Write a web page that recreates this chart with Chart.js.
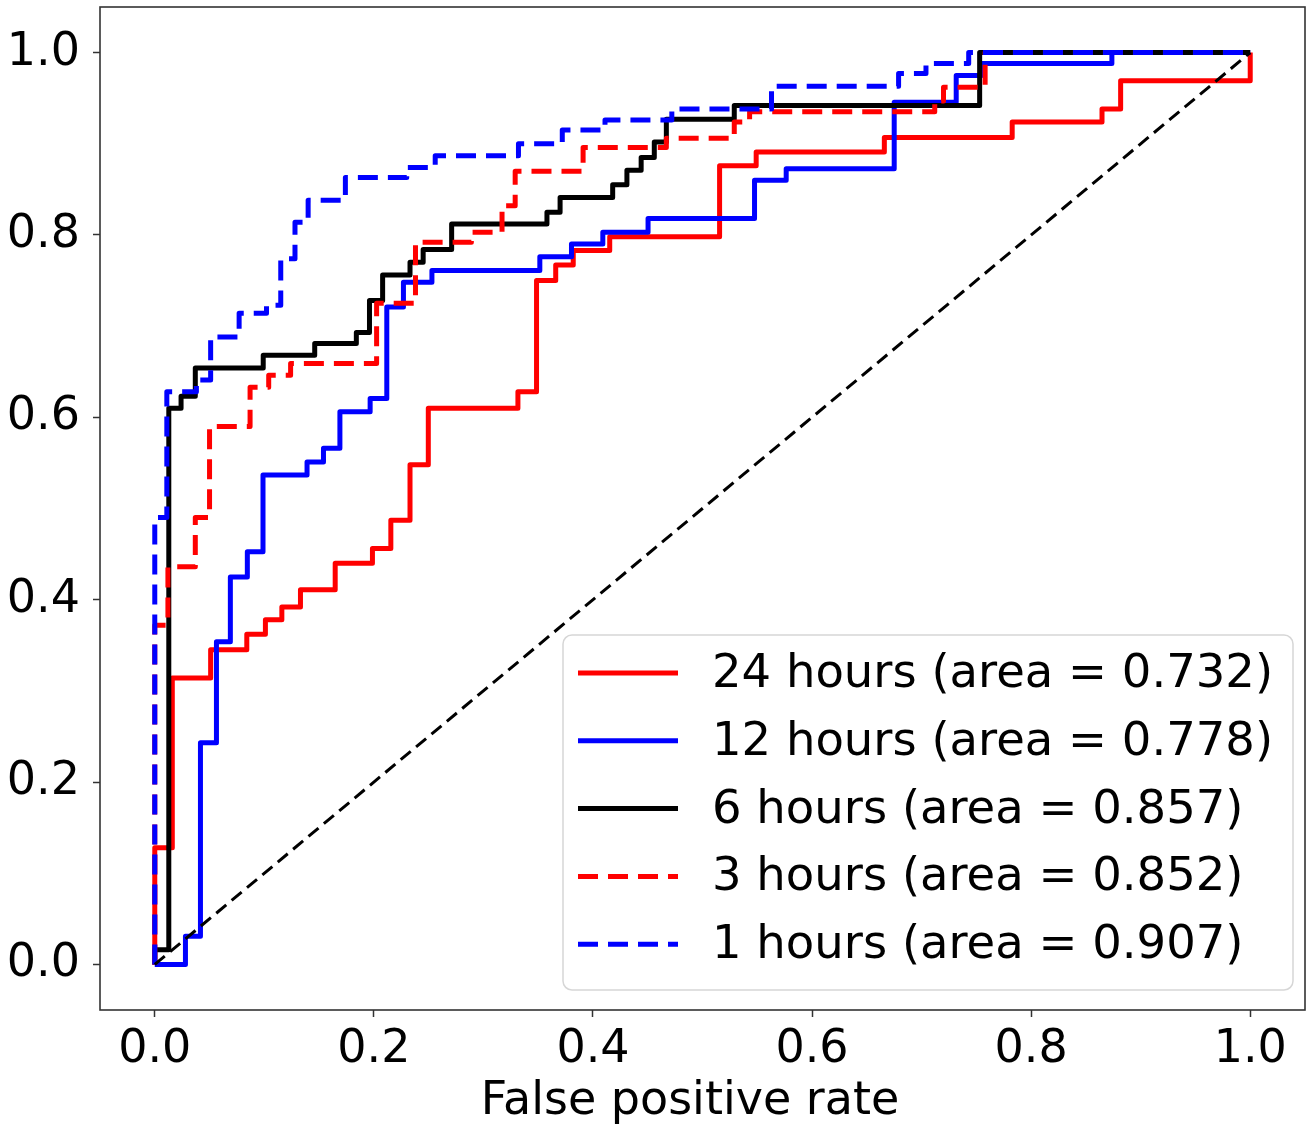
<!DOCTYPE html>
<html>
<head>
<meta charset="utf-8">
<script src="https://cdn.jsdelivr.net/npm/chart.js@4.4.1/dist/chart.umd.min.js"></script>
<style>
html,body{margin:0;padding:0;background:#fff;}
#wrap{width:1308px;height:1127px;position:relative;}
</style>
</head>
<body>
<div id="wrap"><canvas id="c" width="1308" height="1127"></canvas></div>
<script>
// ---------- data ----------
const seriesLabels = [
  '24 hours (area = 0.732)',
  '12 hours (area = 0.778)',
  '6 hours (area = 0.857)',
  '3 hours (area = 0.852)',
  '1 hours (area = 0.907)'
];

const fpr24 = [0,0,0.016,0.016,0.051,0.051,0.084,0.084,0.101,0.101,0.116,0.116,0.133,0.133,0.1647,0.1647,0.1987,0.1987,0.2155,0.2155,0.233,0.233,0.2497,0.2497,0.3315,0.3315,0.3485,0.3485,0.366,0.366,0.382,0.382,0.4153,0.4153,0.5156,0.5156,0.549,0.549,0.666,0.666,0.7827,0.7827,0.8647,0.8647,0.8817,0.8817,1.0,1.0];
const tpr24 = [0,0.128,0.128,0.314,0.314,0.345,0.345,0.362,0.362,0.378,0.378,0.392,0.392,0.411,0.411,0.44,0.44,0.456,0.456,0.487,0.487,0.548,0.548,0.61,0.61,0.628,0.628,0.75,0.75,0.767,0.767,0.783,0.783,0.798,0.798,0.876,0.876,0.891,0.891,0.907,0.907,0.924,0.924,0.938,0.938,0.969,0.969,1.0];

const fpr12 = [0,0.028,0.028,0.0417,0.0417,0.0563,0.0563,0.069,0.069,0.0845,0.0845,0.0988,0.0988,0.139,0.139,0.154,0.154,0.169,0.169,0.1966,0.1966,0.2118,0.2118,0.227,0.227,0.253,0.253,0.3515,0.3515,0.3804,0.3804,0.409,0.409,0.4503,0.4503,0.5475,0.5475,0.5764,0.5764,0.675,0.675,0.7316,0.7316,0.755,0.755,0.8737,0.8737,1.0];
const tpr12 = [0,0,0.031,0.031,0.243,0.243,0.354,0.354,0.425,0.425,0.4527,0.4527,0.5367,0.5367,0.551,0.551,0.566,0.566,0.606,0.606,0.6206,0.6206,0.721,0.721,0.748,0.748,0.761,0.761,0.776,0.776,0.790,0.790,0.803,0.803,0.818,0.818,0.86,0.86,0.8726,0.8726,0.9456,0.9456,0.975,0.975,0.988,0.988,1.0,1.0];

const fpr6 = [0,0,0.0128,0.0128,0.024,0.024,0.037,0.037,0.099,0.099,0.146,0.146,0.184,0.184,0.196,0.196,0.208,0.208,0.233,0.233,0.245,0.245,0.271,0.271,0.358,0.358,0.370,0.370,0.418,0.418,0.431,0.431,0.444,0.444,0.456,0.456,0.467,0.467,0.529,0.529,0.753,0.753,1.0];
const tpr6 = [0,0.016,0.016,0.610,0.610,0.623,0.623,0.654,0.654,0.668,0.668,0.681,0.681,0.693,0.693,0.728,0.728,0.756,0.756,0.770,0.770,0.784,0.784,0.812,0.812,0.825,0.825,0.841,0.841,0.855,0.855,0.871,0.871,0.885,0.885,0.902,0.902,0.927,0.927,0.942,0.942,1.0,1.0];

const fpr3 = [0,0,0.012,0.012,0.037,0.037,0.050,0.050,0.087,0.087,0.104,0.104,0.124,0.124,0.2025,0.2025,0.238,0.238,0.289,0.289,0.317,0.317,0.329,0.329,0.391,0.391,0.467,0.467,0.529,0.529,0.543,0.543,0.712,0.712,0.720,0.720,0.758,0.758,1.0];
const tpr3 = [0,0.372,0.372,0.436,0.436,0.49,0.49,0.59,0.59,0.633,0.633,0.646,0.646,0.659,0.659,0.725,0.725,0.792,0.792,0.803,0.803,0.832,0.832,0.870,0.870,0.896,0.896,0.906,0.906,0.924,0.924,0.935,0.935,0.947,0.947,0.962,0.962,1.0,1.0];

const fpr1 = [0,0,0.011,0.011,0.038,0.038,0.051,0.051,0.077,0.077,0.102,0.102,0.115,0.115,0.128,0.128,0.140,0.140,0.174,0.174,0.230,0.230,0.256,0.256,0.332,0.332,0.372,0.372,0.411,0.411,0.472,0.472,0.563,0.563,0.679,0.679,0.704,0.704,0.743,0.743,1.0];
const tpr1 = [0,0.49,0.49,0.628,0.628,0.641,0.641,0.688,0.688,0.714,0.714,0.723,0.723,0.774,0.774,0.814,0.814,0.838,0.838,0.863,0.863,0.874,0.874,0.887,0.887,0.900,0.900,0.915,0.915,0.926,0.926,0.938,0.938,0.963,0.963,0.977,0.977,0.988,0.988,1.0,1.0];

const diagX = [0, 1];
const diagY = [0, 1];

const xTicks = [0, 0.2, 0.4, 0.6, 0.8, 1.0];
const yTicks = [0, 0.2, 0.4, 0.6, 0.8, 1.0];
const xTitle = 'False positive rate';

// ---------- chart ----------
const FONT = "'DejaVu Sans', 'Liberation Sans', sans-serif";
const pts = (xs, ys) => xs.map((x, i) => ({x: x, y: ys[i]}));

function mk(label, xs, ys, color, dash, order) {
  return {
    label: label, data: pts(xs, ys), borderColor: color, backgroundColor: color,
    borderWidth: 5, borderDash: dash, pointRadius: 0, pointHoverRadius: 0,
    tension: 0, fill: false, order: order, borderJoinStyle: 'round', borderCapStyle: 'butt'
  };
}

const datasets = [
  mk(seriesLabels[0], fpr24, tpr24, '#ff0000', [], 6),
  mk(seriesLabels[1], fpr12, tpr12, '#0000ff', [], 5),
  mk(seriesLabels[2], fpr6, tpr6, '#000000', [], 4),
  mk(seriesLabels[3], fpr3, tpr3, '#ff0000', [20, 10], 3),
  mk(seriesLabels[4], fpr1, tpr1, '#0000ff', [20, 10], 2),
  {label: '', data: pts(diagX, diagY), borderColor: '#000', borderWidth: 3, borderDash: [13, 7],
   pointRadius: 0, tension: 0, fill: false, order: 1, isDiag: true, borderCapStyle: 'butt'}
];

const framePlugin = {
  id: 'frame',
  afterDraw(chart) {
    const a = chart.chartArea, ctx = chart.ctx;
    ctx.save();
    ctx.strokeStyle = '#333';
    ctx.lineWidth = 1.6;
    ctx.strokeRect(a.left, a.top, a.right - a.left, a.bottom - a.top);
    // x-axis title
    ctx.fillStyle = '#000';
    ctx.font = '46px ' + FONT;
    ctx.textAlign = 'center';
    ctx.textBaseline = 'middle';
    ctx.fillText(xTitle, 690, 1102);
    ctx.restore();
  }
};

const legendPlugin = {
  id: 'boxLegend',
  afterDraw(chart) {
    const ctx = chart.ctx;
    const bx = 563, by = 635, bw = 730, bh = 355, r = 9;
    ctx.save();
    ctx.beginPath();
    ctx.moveTo(bx + r, by);
    ctx.arcTo(bx + bw, by, bx + bw, by + bh, r);
    ctx.arcTo(bx + bw, by + bh, bx, by + bh, r);
    ctx.arcTo(bx, by + bh, bx, by, r);
    ctx.arcTo(bx, by, bx + bw, by, r);
    ctx.closePath();
    ctx.fillStyle = 'rgba(255,255,255,0.8)';
    ctx.fill();
    ctx.strokeStyle = '#d6d6d6';
    ctx.lineWidth = 1.5;
    ctx.stroke();
    const rowY0 = 673, rowStep = 67.8;
    chart.data.datasets.forEach((ds, i) => {
      if (ds.isDiag) return;
      const y = rowY0 + i * rowStep;
      ctx.beginPath();
      ctx.setLineDash(ds.borderDash || []);
      ctx.lineWidth = ds.borderWidth;
      ctx.strokeStyle = ds.borderColor;
      ctx.lineCap = 'butt';
      ctx.moveTo(578, y);
      ctx.lineTo(678, y);
      ctx.stroke();
      ctx.setLineDash([]);
      ctx.fillStyle = '#000';
      ctx.font = '46.5px ' + FONT;
      ctx.textBaseline = 'middle';
      ctx.textAlign = 'left';
      ctx.fillText(ds.label, 712, y + 2);
    });
    ctx.restore();
  }
};

new Chart(document.getElementById('c'), {
  type: 'line',
  data: {datasets: datasets},
  options: {
    responsive: false,
    animation: false,
    devicePixelRatio: 1,
    layout: {padding: {top: 7, right: 3, left: 0, bottom: 0}},
    plugins: {legend: {display: false}, tooltip: {enabled: false}},
    scales: {
      x: {
        type: 'linear', min: -0.05, max: 1.05,
        afterBuildTicks: s => { s.ticks = xTicks.map(v => ({value: v})); },
        afterFit: s => { s.height = 117; s.paddingLeft = 0; s.paddingRight = 0; },
        ticks: {callback: v => v.toFixed(1), color: '#000', font: {family: FONT, size: 46}, padding: 5, maxRotation: 0, autoSkip: false},
        grid: {drawOnChartArea: false, drawTicks: true, tickLength: 7, tickColor: '#333', tickWidth: 1.5},
        border: {display: false},
        title: {display: false}
      },
      y: {
        type: 'linear', min: -0.05, max: 1.05,
        afterBuildTicks: s => { s.ticks = yTicks.map(v => ({value: v})); },
        afterFit: s => { s.width = 100; s.paddingTop = 0; s.paddingBottom = 0; },
        ticks: {callback: v => v.toFixed(1), color: '#000', font: {family: FONT, size: 46}, padding: 13, autoSkip: false},
        grid: {drawOnChartArea: false, drawTicks: true, tickLength: 7, tickColor: '#333', tickWidth: 1.5},
        border: {display: false}
      }
    }
  },
  plugins: [framePlugin, legendPlugin]
});
</script>
</body>
</html>
